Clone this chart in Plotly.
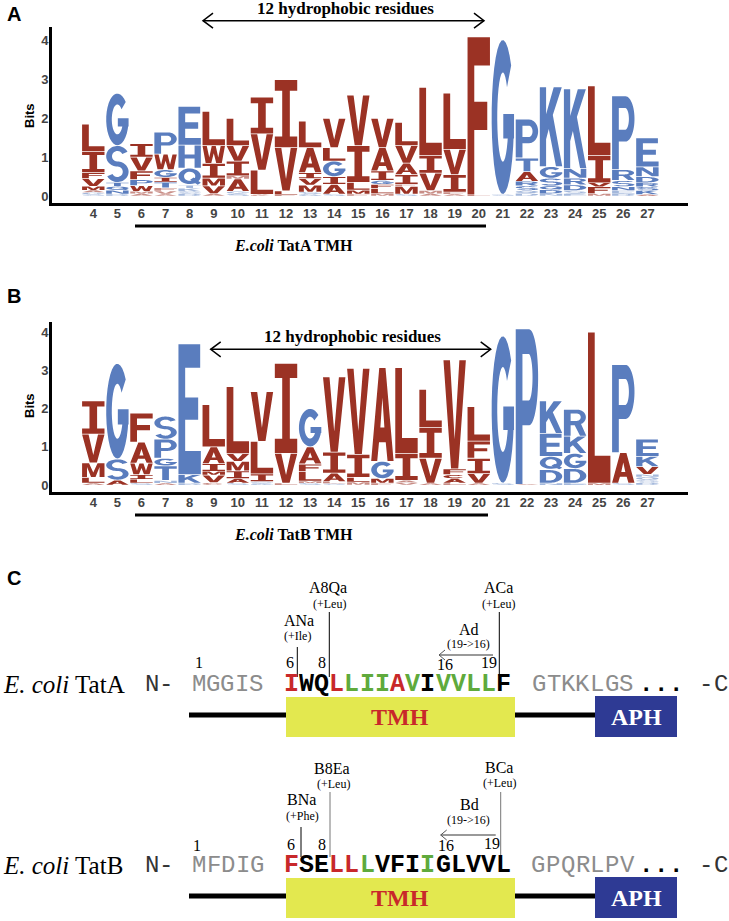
import numpy as np
import plotly.graph_objects as go

W_PX, H_PX = 729, 921

# ---------------- DATA ----------------
positions = list(range(4, 28))

# Sequence-logo stacks (bottom -> top), (residue, bits)
logo_A = [
    [('S', 0.04), ('G', 0.05), ('A', 0.06), ('M', 0.10), ('V', 0.20), ('F', 0.15), ('I', 0.55), ('L', 0.70)],
    [('D', 0.05), ('N', 0.10), ('Q', 0.10), ('T', 0.10), ('S', 0.95), ('G', 1.35)],
    [('A', 0.06), ('M', 0.06), ('W', 0.15), ('P', 0.15), ('F', 0.23), ('V', 0.35), ('I', 0.35)],
    [('A', 0.05), ('V', 0.08), ('F', 0.08), ('T', 0.15), ('I', 0.12), ('G', 0.20), ('W', 0.40), ('P', 0.57)],
    [('D', 0.06), ('S', 0.06), ('K', 0.08), ('T', 0.08), ('Q', 0.44), ('H', 0.59), ('E', 1.00)],
    [('A', 0.06), ('V', 0.20), ('M', 0.20), ('I', 0.38), ('W', 0.46), ('L', 0.88)],
    [('S', 0.06), ('G', 0.06), ('A', 0.32), ('M', 0.08), ('I', 0.38), ('V', 0.40), ('L', 0.70)],
    [('C', 0.04), ('L', 0.63), ('V', 0.93), ('I', 0.95)],
    [('F', 0.03), ('L', 0.10), ('V', 1.12), ('I', 1.75)],
    [('G', 0.05), ('S', 0.05), ('M', 0.18), ('V', 0.17), ('I', 0.15), ('A', 0.65), ('L', 0.68)],
    [('S', 0.05), ('A', 0.25), ('I', 0.20), ('G', 0.40), ('L', 0.35), ('V', 0.75)],
    [('F', 0.05), ('M', 0.10), ('L', 0.20), ('I', 0.95), ('V', 1.30)],
    [('M', 0.06), ('L', 0.14), ('F', 0.10), ('G', 0.10), ('I', 0.25), ('A', 0.60), ('V', 0.75)],
    [('S', 0.05), ('M', 0.20), ('F', 0.05), ('I', 0.25), ('A', 0.30), ('V', 0.45), ('L', 0.60)],
    [('A', 0.06), ('M', 0.08), ('V', 0.45), ('I', 0.46), ('L', 1.75)],
    [('A', 0.05), ('F', 0.05), ('I', 0.45), ('V', 0.65), ('L', 1.45)],
    [('L', 0.03), ('F', 4.07)],
    [('S', 0.04), ('G', 3.99)],
    [('D', 0.07), ('Q', 0.07), ('S', 0.12), ('R', 0.12), ('A', 0.25), ('T', 0.35), ('P', 1.00)],
    [('N', 0.06), ('D', 0.10), ('Q', 0.10), ('S', 0.20), ('G', 0.30), ('K', 2.05)],
    [('E', 0.06), ('S', 0.08), ('D', 0.15), ('R', 0.17), ('N', 0.25), ('K', 2.05)],
    [('M', 0.06), ('F', 0.18), ('V', 0.10), ('I', 0.70), ('L', 1.80)],
    [('D', 0.06), ('E', 0.08), ('N', 0.10), ('S', 0.16), ('R', 0.28), ('P', 1.90)],
    [('A', 0.04), ('K', 0.10), ('S', 0.10), ('R', 0.10), ('D', 0.16), ('N', 0.25), ('E', 0.75)],
]

logo_B = [
    [('A', 0.05), ('L', 0.15), ('M', 0.38), ('V', 0.75), ('I', 0.87)],
    [('A', 0.13), ('S', 0.55), ('G', 2.50)],
    [('S', 0.05), ('L', 0.10), ('I', 0.12), ('W', 0.30), ('A', 0.55), ('F', 0.76)],
    [('A', 0.05), ('N', 0.07), ('T', 0.38), ('G', 0.20), ('P', 0.50), ('S', 0.60)],
    [('D', 0.05), ('K', 0.22), ('E', 3.42)],
    [('C', 0.06), ('V', 0.20), ('M', 0.10), ('I', 0.20), ('A', 0.44), ('L', 1.10)],
    [('S', 0.05), ('A', 0.12), ('I', 0.20), ('M', 0.25), ('V', 0.20), ('L', 1.75)],
    [('G', 0.04), ('S', 0.05), ('I', 0.20), ('L', 0.85), ('V', 1.30)],
    [('L', 0.05), ('V', 0.78), ('I', 2.35)],
    [('S', 0.05), ('M', 0.05), ('L', 0.25), ('F', 0.20), ('A', 0.45), ('G', 1.00)],
    [('S', 0.04), ('L', 0.05), ('A', 0.22), ('I', 0.55), ('V', 1.97)],
    [('M', 0.08), ('L', 0.12), ('I', 0.60), ('V', 2.25)],
    [('F', 0.05), ('M', 0.12), ('G', 0.45), ('A', 2.45)],
    [('V', 0.06), ('A', 0.06), ('I', 0.70), ('L', 2.25)],
    [('A', 0.05), ('V', 0.65), ('I', 0.80), ('L', 1.00)],
    [('L', 0.05), ('A', 0.12), ('C', 0.10), ('F', 0.15), ('V', 2.85)],
    [('A', 0.05), ('V', 0.25), ('I', 0.40), ('F', 0.45), ('L', 0.90)],
    [('S', 0.05), ('G', 3.85)],
    [('A', 0.02), ('P', 4.06)],
    [('N', 0.05), ('D', 0.35), ('Q', 0.35), ('E', 0.60), ('K', 0.85)],
    [('E', 0.05), ('D', 0.38), ('G', 0.40), ('K', 0.45), ('R', 0.70)],
    [('M', 0.05), ('L', 3.95)],
    [('S', 0.05), ('A', 0.80), ('P', 2.30)],
    [('D', 0.06), ('S', 0.07), ('Q', 0.08), ('N', 0.07), ('V', 0.20), ('K', 0.27), ('E', 0.45)],
]

bits_ticks = [0, 1, 2, 3, 4]

# Panel C sequences
tatA_pre, tatA_tmh, tatA_tmh_col, tatA_post = "MGGIS", "IWQLLIIAVIVVLLF", "RKKRGGGRGKGGGGK", "GTKKLGS"
tatB_pre, tatB_tmh, tatB_tmh_col, tatB_post = "MFDIG", "FSELLLVFIIGLVVL", "RKKRRGKKKGKKKKK", "GPQRLPV"

# ---------------- STYLE ----------------
RED_LOGO = '#9B3224'
BLUE_LOGO = '#5A7DBE'
HYDROPHOBIC = set("AVLIMFWCY")
SEQ_COL = {'R': '#C8282A', 'K': '#000000', 'G': '#5FAA3C'}
SERIF = 'Liberation Serif'
MONO = 'Liberation Mono'
SANS = 'Liberation Sans'


def arc(cx, cy, rx, ry, a0, a1, n=30):
    t = np.radians(np.linspace(a0, a1, n))
    return [(cx + rx * np.cos(a), cy + ry * np.sin(a)) for a in t]


def rect(x0, y0, x1, y1):
    return [(x0, y0), (x1, y0), (x1, y1), (x0, y1)]


def stroke(pts, hx, hy):
    p = np.array(pts, dtype=float)
    q = p / np.array([hx, hy])
    d = np.gradient(q, axis=0)
    n = np.stack([-d[:, 1], d[:, 0]], 1)
    n /= np.linalg.norm(n, axis=1, keepdims=True)
    off = n * np.array([hx, hy])
    left = p + off
    right = p - off
    return [tuple(v) for v in left] + [tuple(v) for v in right[::-1]]


S_center = arc(0.5, 0.715, 0.37, 0.215, 25, 270, 40) + arc(0.5, 0.285, 0.37, 0.215, 90, -155, 40)[1:]

GLYPHS = {
    'A': [([(0, 0), (0.27, 0), (0.35, 0.2), (0.65, 0.2), (0.73, 0), (1, 0), (0.64, 1), (0.36, 1)], False),
          ([(0.41, 0.36), (0.59, 0.36), (0.5, 0.68)], True)],
    'C': [(arc(.5, .5, .5, .5, 42, 318) + arc(.5, .5, .25, .29, 318, 42), False)],
    'G': [(arc(.5, .5, .5, .5, 42, 360) + arc(.5, .5, .25, .29, 360, 42), False),
          (rect(0.52, 0.36, 1.0, 0.52), False)],
    'O': [(arc(.5, .5, .5, .5, 0, 360), False), (arc(.5, .5, .25, .29, 0, 360), True)],
    'Q': [(arc(.5, .52, .5, .48, 0, 360), False), (arc(.5, .52, .25, .28, 0, 360), True),
          ([(0.52, 0.3), (0.68, 0.44), (1.0, 0.12), (0.86, 0.0)], False)],
    'D': [([(0, 0), (0.45, 0)] + arc(.45, .5, .55, .5, -90, 90) + [(0, 1)], False),
          ([(0.28, 0.18), (0.45, 0.18)] + arc(.45, .5, .27, .32, -90, 90) + [(0.28, 0.82)], True)],
    'P': [([(0, 0), (0.3, 0), (0.3, 0.38), (0.6, 0.38)] + arc(.6, .69, .4, .31, -90, 90) + [(0, 1)], False),
          ([(0.3, 0.54), (0.58, 0.54)] + arc(.58, .69, .17, .15, -90, 90) + [(0.3, 0.84)], True)],
    'R': [([(0, 0), (0.3, 0), (0.3, 0.4), (0.48, 0.4), (0.72, 0), (1.0, 0), (0.76, 0.46)]
           + arc(.6, .71, .38, .29, -60, 90) + [(0, 1)], False),
          ([(0.3, 0.56), (0.58, 0.56)] + arc(.58, .71, .17, .14, -90, 90) + [(0.3, 0.85)], True)],
    'S': [(stroke(S_center, 0.13, 0.07), False)],
    'E': [([(0, 0), (1, 0), (1, 0.18), (0.3, 0.18), (0.3, 0.42), (0.88, 0.42), (0.88, 0.59), (0.3, 0.59),
            (0.3, 0.82), (0.97, 0.82), (0.97, 1), (0, 1)], False)],
    'F': [([(0, 0), (0.3, 0), (0.3, 0.41), (0.88, 0.41), (0.88, 0.59), (0.3, 0.59), (0.3, 0.82), (1, 0.82),
            (1, 1), (0, 1)], False)],
    'H': [([(0, 0), (0.28, 0), (0.28, 0.42), (0.72, 0.42), (0.72, 0), (1, 0), (1, 1), (0.72, 1), (0.72, 0.6),
            (0.28, 0.6), (0.28, 1), (0, 1)], False)],
    'I': [([(0, 0), (1, 0), (1, 0.16), (0.67, 0.16), (0.67, 0.84), (1, 0.84), (1, 1), (0, 1), (0, 0.84),
            (0.33, 0.84), (0.33, 0.16), (0, 0.16)], False)],
    'K': [([(0, 0), (0.28, 0), (0.28, 0.34), (0.4, 0.47), (0.72, 0), (1, 0), (0.58, 0.65), (0.98, 1),
            (0.62, 1), (0.28, 0.66), (0.28, 1), (0, 1)], False)],
    'L': [([(0, 0), (1, 0), (1, 0.18), (0.3, 0.18), (0.3, 1), (0, 1)], False)],
    'M': [([(0, 0), (0.22, 0), (0.22, 0.72), (0.4, 0), (0.6, 0), (0.78, 0.72), (0.78, 0), (1, 0), (1, 1),
            (0.69, 1), (0.5, 0.33), (0.31, 1), (0, 1)], False)],
    'N': [([(0, 0), (0.25, 0), (0.25, 0.66), (0.7, 0), (1, 0), (1, 1), (0.75, 1), (0.75, 0.34), (0.3, 1),
            (0, 1)], False)],
    'T': [([(0.35, 0), (0.65, 0), (0.65, 0.82), (1, 0.82), (1, 1), (0, 1), (0, 0.82), (0.35, 0.82)], False)],
    'V': [([(0, 1), (0.29, 1), (0.5, 0.27), (0.71, 1), (1, 1), (0.66, 0), (0.34, 0)], False)],
    'W': [([(0, 1), (0.19, 1), (0.3, 0.33), (0.41, 1), (0.59, 1), (0.7, 0.33), (0.81, 1), (1, 1), (0.86, 0),
            (0.61, 0), (0.5, 0.58), (0.39, 0), (0.14, 0)], False)],
    'Y': [([(0, 1), (0.3, 1), (0.5, 0.6), (0.7, 1), (1, 1), (0.65, 0.42), (0.65, 0), (0.35, 0),
            (0.35, 0.42)], False)],
}


def signed_area(c):
    a = 0.0
    for (x1, y1), (x2, y2) in zip(c, c[1:] + c[:1]):
        a += x1 * y2 - x2 * y1
    return a / 2


def letter_path(ch, xc, y0, w, h):
    parts = []
    for contour, hole in GLYPHS[ch]:
        c = [tuple(p) for p in contour]
        if (signed_area(c) < 0) != hole:
            c = c[::-1]
        pts = [(xc - w / 2 + u * w, y0 + v * h) for u, v in c]
        s = "M" + " L".join(f"{x:.4f},{y:.4f}" for x, y in pts) + " Z"
        parts.append(s)
    return " ".join(parts)


shapes = []
annotations = []


def add_logo(stacks, xref, yref):
    for pos, stack in zip(positions, stacks):
        y = 0.0
        for ch, h in stack:
            gap = min(0.02, 0.15 * h)
            col = RED_LOGO if ch in HYDROPHOBIC else BLUE_LOGO
            shapes.append(dict(type='path', xref=xref, yref=yref,
                               path=letter_path(ch, pos, y + gap / 2, 0.93, h - gap),
                               fillcolor=col, line=dict(width=0), fillrule='nonzero',
                               opacity=0.55 if h < 0.1 else 1.0, layer='above'))
            y += h


add_logo(logo_A, 'x', 'y')
add_logo(logo_B, 'x2', 'y2')


# pixel-space helpers (overlay axes x3/y3)
def px_line(x0, y0, x1, y1, color='black', width=1):
    shapes.append(dict(type='line', xref='x3', yref='y3', x0=x0, y0=y0, x1=x1, y1=y1,
                       line=dict(color=color, width=width), layer='above'))


def px_path(d, color='black', width=1):
    shapes.append(dict(type='path', xref='x3', yref='y3', path=d,
                       line=dict(color=color, width=width), fillcolor='rgba(0,0,0,0)', layer='above'))


def px_rect(x0, y0, x1, y1, fill):
    shapes.append(dict(type='rect', xref='x3', yref='y3', x0=x0, y0=y0, x1=x1, y1=y1,
                       fillcolor=fill, line=dict(width=0), layer='above'))


def px_text(x, y, text, size, family=SERIF, color='black', xanchor='center', yanchor='middle', angle=0):
    annotations.append(dict(xref='x3', yref='y3', x=x, y=y, text=text, showarrow=False,
                            font=dict(size=size, family=family, color=color),
                            xanchor=xanchor, yanchor=yanchor, textangle=angle, borderpad=0))


# Panel labels
px_text(14, 14, "<b>A</b>", 20, SANS)
px_text(14, 296, "<b>B</b>", 20, SANS)
px_text(14, 578, "<b>C</b>", 20, SANS)

# Bits titles
px_text(29, 116, "<b>Bits</b>", 13, SANS, angle=-90)
px_text(29, 406, "<b>Bits</b>", 13, SANS, angle=-90)

# Hydrophobic arrows
for (xa, xb, ya, ty) in [(203, 484, 20.7, 8), (210.7, 490.7, 349.3, 336)]:
    px_line(xa, ya, xb, ya, 'black', 1.5)
    px_path(f"M{xa+10},{ya-7.5} L{xa},{ya} L{xa+10},{ya+7.5}", 'black', 1.5)
    px_path(f"M{xb-10},{ya-7.5} L{xb},{ya} L{xb-10},{ya+7.5}", 'black', 1.5)
    px_text((xa + xb) / 2 + 2, ty, "<b>12 hydrophobic residues</b>", 17)

# TMH underlines
px_line(135, 226, 486, 226, 'black', 3)
px_text(293, 245, "<b><i>E.coli</i> TatA TMH</b>", 16)
px_line(135, 515, 488, 515, 'black', 3)
px_text(293, 534, "<b><i>E.coli</i> TatB TMH</b>", 16)


# ---------------- Panel C ----------------
def seq_row(dy, name, pre, tmh, tmh_col, post, pre_pitch, post_start, post_pitch):
    ry = 684.5 + dy
    px_text(2, ry, f"<i>E. coli</i> {name}", 25, SERIF, xanchor='left')
    px_text(152, ry, "N", 24, MONO, '#333333')
    px_text(166, ry, "-", 24, MONO, '#333333')
    for i, c in enumerate(pre):
        px_text(199 + pre_pitch * i, ry, c, 24, MONO, '#8c8c8c')
    for i, (c, k) in enumerate(zip(tmh, tmh_col)):
        px_text(291 + 15.2 * i, ry, f"<b>{c}</b>", 25, MONO, SEQ_COL[k])
    for i, c in enumerate(post):
        px_text(post_start + post_pitch * i, ry, c, 24, MONO, '#8c8c8c')
    for xdot in (646, 661, 675.5):
        px_text(xdot, ry, "<b>.</b>", 24, MONO, 'black')
    px_text(706, ry, "-", 24, MONO, '#333333')
    px_text(721, ry, "C", 24, MONO, '#333333')
    # domain bar
    by = 717 + dy
    px_line(189, by - 2, 286, by - 2, 'black', 5)
    px_line(515, by - 2, 595, by - 2, 'black', 5)
    px_rect(286, by - 20, 515, by + 20, '#E3E84F')
    px_rect(595, by - 21, 677, by + 20, '#2E3A94')
    px_text(400, by, "<b>TMH</b>", 24, SERIF, '#C8282A')
    px_text(636, by, "<b>APH</b>", 24, SERIF, 'white')


seq_row(0, "TatA", tatA_pre, tatA_tmh, tatA_tmh_col, tatA_post, 14.2, 539, 14.5)
seq_row(181, "TatB", tatB_pre, tatB_tmh, tatB_tmh_col, tatB_post, 14.6, 538, 14.86)

# TatA annotations
px_text(199, 662, "1", 16)
px_text(290, 662, "6", 16)
px_text(321.7, 662, "8", 16)
px_text(445, 664, "16", 16)
px_text(489, 662, "19", 16)
px_text(298.5, 620, "ANa", 16)
px_text(297, 636, "(+Ile)", 12)
px_text(328, 587, "A8Qa", 16)
px_text(329.5, 604, "(+Leu)", 12)
px_text(469, 629, "Ad", 16)
px_text(468, 644, "(19->16)", 12)
px_text(498.5, 587, "ACa", 16)
px_text(498, 604, "(+Leu)", 12)
px_line(297.3, 647, 297.3, 677, 'black', 1)
px_line(329.3, 612, 329.3, 677, 'black', 1)
px_line(499.3, 612, 499.3, 676, 'black', 1)
px_line(439, 655, 493, 655, '#777777', 1.5)
px_path("M445,650 L439,655 L445,660", '#555555', 1)

# TatB annotations
px_text(197, 845, "1", 16)
px_text(291, 844, "6", 16)
px_text(321.7, 844, "8", 16)
px_text(445.7, 845, "16", 16)
px_text(491.7, 843, "19", 16)
px_text(301.5, 799, "BNa", 16)
px_text(302.7, 816, "(+Phe)", 12)
px_text(332, 768, "B8Ea", 16)
px_text(333, 784, "(+Leu)", 12)
px_text(469, 804, "Bd", 16)
px_text(468, 820, "(19->16)", 12)
px_text(499, 767, "BCa", 16)
px_text(499, 783, "(+Leu)", 12)
px_line(301, 827, 301, 857, 'black', 1)
px_line(330, 792, 330, 857, '#777777', 1)
px_line(500.7, 792, 500.7, 855, '#777777', 1)
px_line(440.7, 835, 495.7, 835, '#777777', 1.5)
px_path("M446.7,830 L440.7,835 L446.7,840", '#555555', 1)

# ---------------- FIGURE ----------------
fig = go.Figure()
fig.add_trace(go.Scatter(x=[positions[0]], y=[0], mode='markers', marker=dict(opacity=0),
                         xaxis='x', yaxis='y', hoverinfo='skip', showlegend=False))
fig.add_trace(go.Scatter(x=[positions[0]], y=[0], mode='markers', marker=dict(opacity=0),
                         xaxis='x2', yaxis='y2', hoverinfo='skip', showlegend=False))
fig.add_trace(go.Scatter(x=[0], y=[0], mode='markers', marker=dict(opacity=0),
                         xaxis='x3', yaxis='y3', hoverinfo='skip', showlegend=False))

xdom = [52 / W_PX, 688 / W_PX]
xrng = [2.286, 28.686]
tickfont = dict(family=SANS, size=13, color='#444444', weight='bold')


def xax(anchor):
    return dict(domain=xdom, range=xrng, anchor=anchor, tickvals=positions,
                ticktext=[str(p) for p in positions], showline=True, linewidth=3, linecolor='black',
                ticks='', showgrid=False, zeroline=False, tickfont=tickfont, fixedrange=True,
                ticklabelstandoff=-4)


def yax(anchor, dom, rng):
    return dict(domain=dom, range=rng, anchor=anchor, tickvals=bits_ticks,
                ticktext=[str(t) for t in bits_ticks], showline=True, linewidth=3, linecolor='black',
                ticks='', showgrid=False, zeroline=False, tickfont=tickfont, fixedrange=True,
                ticklabelstandoff=-2)


fig.update_layout(
    width=W_PX, height=H_PX,
    margin=dict(l=0, r=0, t=0, b=0),
    paper_bgcolor='white', plot_bgcolor='rgba(0,0,0,0)',
    showlegend=False,
    xaxis=xax('y'),
    yaxis=yax('x', [1 - 203 / H_PX, 1 - 27 / H_PX], [-0.18, 4.356]),
    xaxis2=xax('y2'),
    yaxis2=yax('x2', [1 - 492.3 / H_PX, 1 - 321.7 / H_PX], [-0.19, 4.27]),
    xaxis3=dict(domain=[0, 1], range=[0, W_PX], anchor='y3', visible=False, fixedrange=True),
    yaxis3=dict(domain=[0, 1], range=[H_PX, 0], anchor='x3', visible=False, fixedrange=True),
    shapes=shapes,
    annotations=annotations,
)

fig.write_html("out.html", config={'displayModeBar': False},
               post_script="document.body.style.margin='0px';document.body.style.overflow='hidden';")
